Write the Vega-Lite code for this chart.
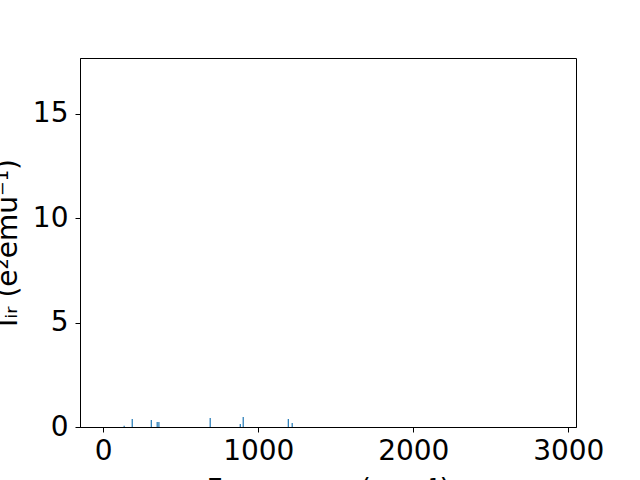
{
  "$schema": "https://vega.github.io/schema/vega-lite/v6.json",
  "width": 496,
  "height": 369,
  "autosize": {"type": "none"},
  "padding": {"left": 80, "top": 58, "right": 64, "bottom": 53},
  "background": "white",
  "config": {
    "font": "DejaVu Sans",
    "view": {"stroke": "black", "strokeWidth": 1},
    "axis": {
      "grid": false,
      "domainColor": "black",
      "tickColor": "black",
      "tickSize": 5,
      "tickWidth": 1,
      "labelPadding": 5,
      "labelFontSize": 28,
      "labelColor": "black",
      "titleFontSize": 28,
      "titleFontWeight": "normal",
      "titleColor": "black",
      "labelFont": "DejaVu Sans",
      "titleFont": "DejaVu Sans",
      "format": "d"
    }
  },
  "data": {
    "values": [
      {"freq": 135, "intensity": 0.06},
      {"freq": 187, "intensity": 0.38},
      {"freq": 310, "intensity": 0.34},
      {"freq": 348, "intensity": 0.24},
      {"freq": 359, "intensity": 0.24},
      {"freq": 690, "intensity": 0.43},
      {"freq": 884, "intensity": 0.14},
      {"freq": 903, "intensity": 0.48},
      {"freq": 1194, "intensity": 0.38},
      {"freq": 1219, "intensity": 0.19}
    ]
  },
  "mark": {"type": "rule", "color": "#1f77b4", "strokeWidth": 1.2},
  "encoding": {
    "x": {
      "field": "freq",
      "type": "quantitative",
      "scale": {"domain": [-150, 3050], "nice": false, "zero": false},
      "axis": {"values": [0, 1000, 2000, 3000], "format": "d", "title": "Frequency (cm⁻¹)", "titlePadding": 11}
    },
    "y": {
      "field": "intensity",
      "type": "quantitative",
      "scale": {"domain": [0, 17.66], "nice": false},
      "axis": {"values": [0, 5, 10, 15], "format": "d", "title": "Iᵢᵣ (e²emu⁻¹)", "titlePadding": 10, "labelPadding": 7}
    },
    "y2": {"datum": 0}
  }
}
